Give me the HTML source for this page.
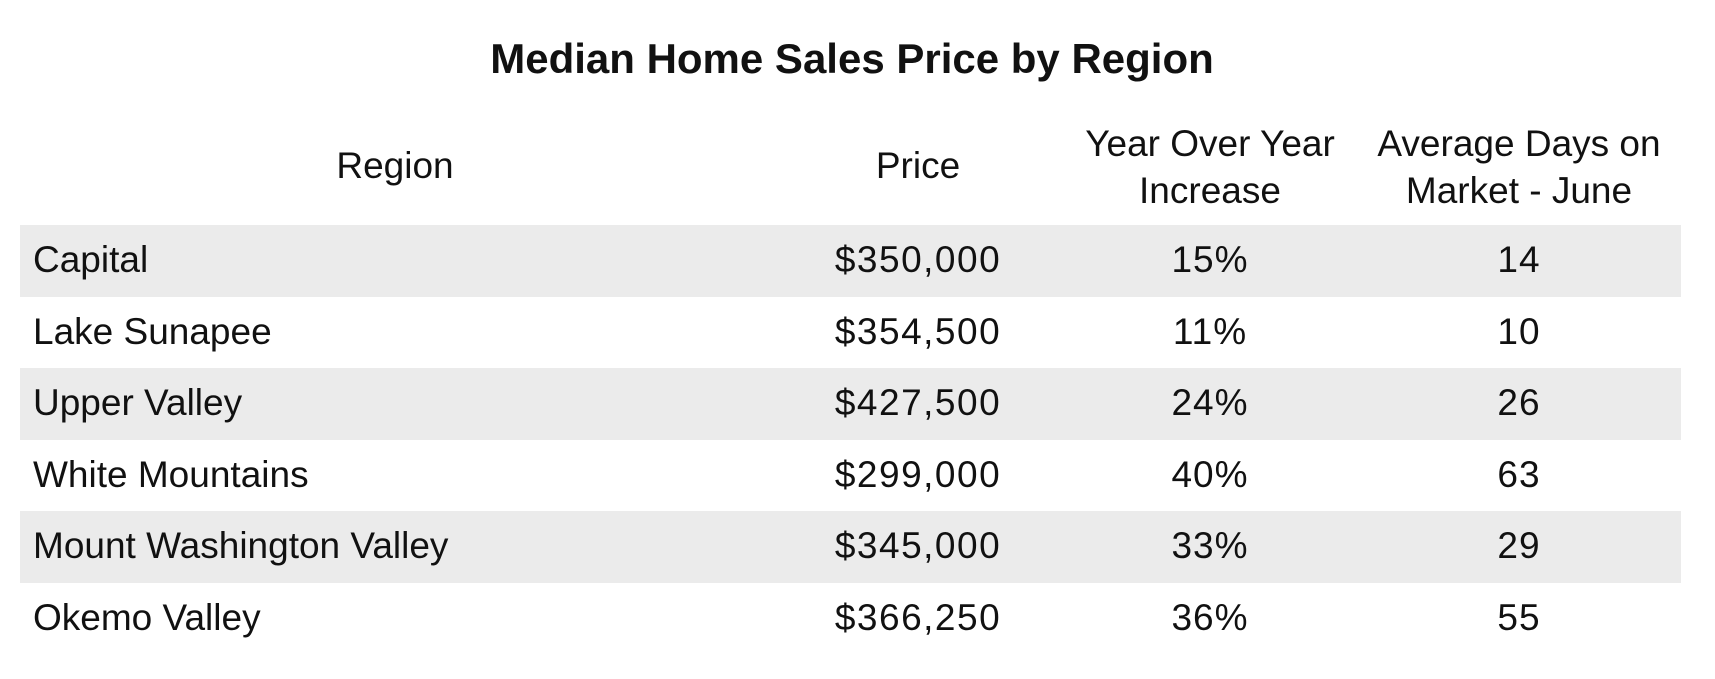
<!DOCTYPE html>
<html><head><meta charset="utf-8"><style>
body{margin:0;width:1715px;height:679px;background:#fff;font-family:"Liberation Sans",Arial,sans-serif;color:#111;position:relative;overflow:hidden}
.t{position:absolute;white-space:nowrap}
.row{position:absolute;left:20px;width:1661px;height:72px}
.c{transform:translateX(-50%);text-align:center}
</style></head><body>
<div class="t c" style="left:852px;top:35px;font-size:42px;font-weight:bold">Median Home Sales Price by Region</div>
<div class="t c" style="left:395px;top:145px;font-size:37px">Region</div>
<div class="t c" style="left:918px;top:145px;font-size:37px">Price</div>
<div class="t c" style="left:1210px;top:120px;font-size:37px;line-height:47px">Year Over Year<br>Increase</div>
<div class="t c" style="left:1519px;top:120px;font-size:37px;line-height:47px">Average Days on<br>Market - June</div>
<div id="tb"></div>
<script>
const regions=["Capital","Lake Sunapee","Upper Valley","White Mountains","Mount Washington Valley","Okemo Valley"];
const prices=["$350,000","$354,500","$427,500","$299,000","$345,000","$366,250"];
const yoy=["15%","11%","24%","40%","33%","36%"];
const days=["14","10","26","63","29","55"];
const tb=document.getElementById('tb');
regions.forEach((r,i)=>{
  const top=225.4+i*71.45;
  const row=document.createElement('div');
  row.className='row';
  
  
  row.style.top=top+'px';
  row.style.background=i%2===0?'#ebebeb':'#fff';
  tb.appendChild(row);
  const cells=[[r,33,false,'region-cell',0],[prices[i],918,true,'price-cell',1.5],[yoy[i],1210,true,'yoy-cell',1],[days[i],1519,true,'days-cell',1]];
  cells.forEach(([txt,x,ctr,nm,ls])=>{
    const d=document.createElement('div');
    d.className='t'+(ctr?' c':'');
    
    
    d.textContent=txt;
    d.style.left=x+'px';
    d.style.top=(top+14)+'px';
    d.style.fontSize='37px';
    d.style.letterSpacing=ls+'px';
    tb.appendChild(d);
  });
});
</script>
</body></html>
